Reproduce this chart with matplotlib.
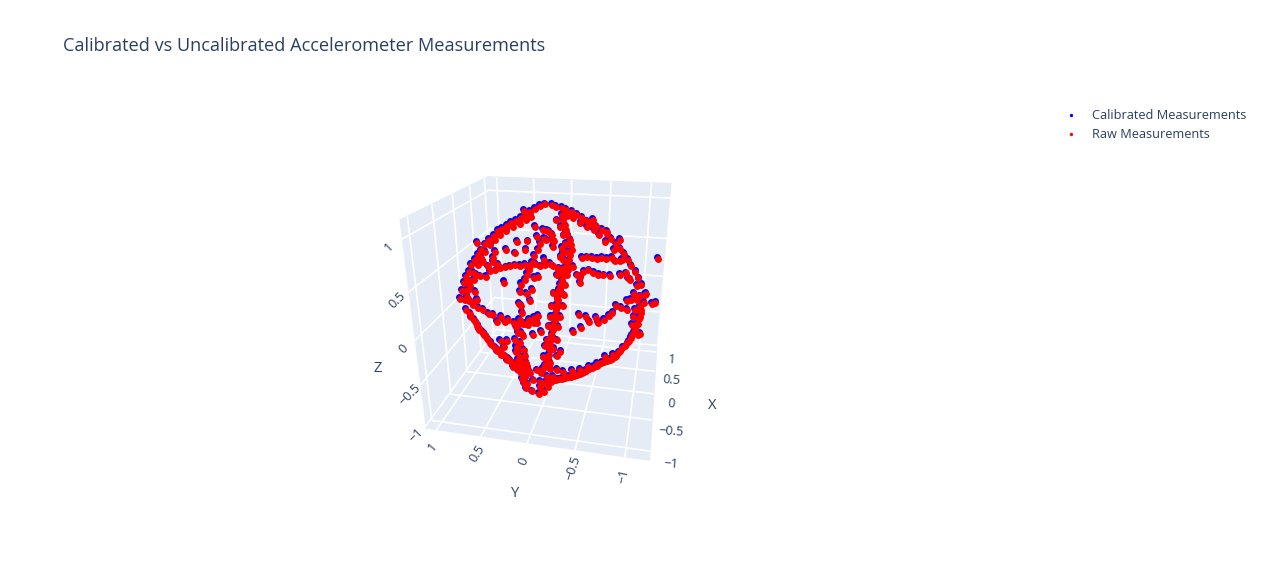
import matplotlib
matplotlib.use('Agg')
import matplotlib.pyplot as plt
import numpy as np
from matplotlib.lines import Line2D

# accelerometer readings in g, stored as hundredths
raw_x = [21,20,18,16,14,12,10,8,6,3,1,-2,-5,-8,-11,-14,-17,-20,-24,-27,-30,-34,-38,16,14,11,8,5,
1,-2,-5,-9,-13,-17,-21,-26,-31,-36,-34,-33,-28,-24,-20,-19,-27,-34,-29,-40,-39,-40,-41,-42,-42,-43,-44,-44,
-45,-45,-46,-47,-48,-42,-42,-45,-45,-46,-48,-48,-52,-55,-58,-58,-58,-55,-50,-46,-43,-41,-39,-38,-36,-34,-32,-29,
-28,-25,-24,-22,-21,-18,-15,-12,-9,-6,-3,0,3,6,9,-46,-42,-39,-37,-36,-36,-34,-32,-29,-26,-21,-20,-50,
-49,-43,-42,-52,-48,9,13,16,18,20,22,24,25,26,27,28,28,28,28,28,28,27,27,26,25,24,23,13,
11,8,5,4,1,-3,-3,16,18,22,25,27,27,28,28,27,27,26,9,44,60,70,77,83,88,91,94,97,
98,99,100,100,99,98,97,94,92,89,87,83,79,75,70,65,59,53,47,40,33,24,9,60,73,83,90,95,
98,99,99,98,94,95,87,90,80,83,72,74,58,61,50,50,48,36,40,29,98,99,100,100,99,99,100,99,
99,98,42,50,56,63,68,73,78,82,86,89,92,94,96,97,96,94,91,88,84,80,74,71,63,98,96,94,
91,88,82,69,54,18,4,4,27,29,28,63,73,77,76,88,41,41,57,63,74,69,78,-12,25,38,44,53,
14,-62,-72,-78,-83,-87,-90,-92,-93,-95,-95,-97,-98,-98,-98,-96,-95,-84,-81,-80,-75,-75,-70,-65,-61,-54,-50,-42,
-39,-29,-38,-47,-53,-59,-65,-71,-75,-78,-81,-84,-87,-92,-93,-88,-86,-91,-80,-79,-67,-48,-47,-41,-54,-53,-57,-95,
-97,-98,-99,-99,-100,-99,-100,-99,-99,-97,-98,-95,-95,-91,-85,-99,-98,-97,-97,-97,-80,-67,-99,-98,-95,-97,-96,-90,
-85,-9,-9,
-40,-40,-41,-42,-43,-43,-44,-45,-45,-46,-47,-47,-50,-44,-42,-40,-38,-37,-35,-33,-30,-28,-27,-25,-23,-21,-19,-16,-13,-10,-7,-4,-1,2,
96,92,88,81,73,62,50,37,-100,-98,-97,-95,-92,-88,-96,-94,-98]
raw_y = [12,18,23,28,33,38,43,48,53,57,62,66,70,74,78,81,84,87,89,92,93,94,96,27,32,39,46,53,
59,65,69,74,78,81,85,88,89,91,93,89,87,84,82,78,82,86,80,89,85,80,76,71,66,61,56,50,
44,38,32,27,22,74,68,53,48,41,34,28,21,19,16,10,2,-3,-7,-10,-15,-21,-26,-31,-37,-42,-47,-53,
-58,-63,-69,-74,-79,-83,-88,-91,-94,-97,-99,-101,-102,-104,-105,15,8,1,-6,-14,-21,-31,-40,-49,-58,-66,-75,10,
3,-4,-11,2,-3,-106,-100,-96,-92,-87,-83,-78,-73,-68,-62,-57,-51,-45,-40,-34,-28,-23,-17,-11,-6,0,5,-95,
-92,-96,-100,-95,-94,-100,-93,-87,-82,-76,-66,-56,-48,-42,-34,-27,-19,-12,-99,-2,0,0,0,-1,-3,-4,-5,-2,
0,3,6,7,9,12,11,13,13,14,14,15,14,16,15,16,15,15,14,14,15,15,16,8,6,4,3,2,
7,14,16,5,20,6,21,6,21,8,22,9,21,8,21,10,0,20,3,10,21,14,7,1,-6,12,3,-11,
-16,-16,89,85,81,76,72,66,61,55,50,44,38,31,25,11,-18,-25,-32,-39,-45,-52,-59,-64,-71,-20,-27,-34,
-41,-48,-57,-71,-82,-116,-113,-117,-72,-41,-57,36,28,22,37,18,81,84,72,60,49,65,53,82,91,90,85,82,
35,75,66,58,51,44,38,34,29,24,21,15,10,5,0,-5,-9,-46,-53,-56,-62,-64,-69,-73,-76,-79,-83,-89,
-88,-92,-4,-3,-1,0,2,3,5,6,7,10,11,11,8,4,-1,0,-1,-5,-8,-6,-11,-10,-14,-23,-25,7,
9,12,10,14,8,11,5,9,4,8,3,7,2,7,7,7,3,0,-5,-8,29,52,-5,-12,30,23,26,-42,
-49,-103,-101,
83,78,74,69,64,59,53,47,41,35,30,25,20,-13,-18,-24,-29,-34,-40,-45,-50,-55,-61,-66,-72,-77,-81,-85,-90,-93,-96,-98,-100,-102,
13,14,13,14,16,14,15,14,12,13,12,11,11,11,3,4,6]
raw_z = [106,104,101,98,95,92,89,87,84,81,79,74,70,66,60,56,51,46,39,34,28,21,13,93,90,86,83,79,
75,70,65,58,52,45,37,29,21,11,20,14,24,30,35,33,18,9,9,1,-4,-10,-16,-22,-28,-34,-39,-43,
-48,-53,-57,-61,-65,-20,-26,-43,-47,-52,-58,-62,-69,-73,-77,-80,-82,-81,-77,-73,-72,-71,-69,-69,-67,-65,-63,-60,
-58,-55,-53,-50,-47,-42,-37,-32,-26,-20,-14,-7,0,7,15,-65,-63,-62,-62,-63,-65,-64,-62,-59,-56,-49,-46,-71,
-73,-69,-69,-77,-74,17,25,31,38,43,49,55,60,65,70,75,79,83,86,88,92,95,98,100,102,103,105,23,
15,9,3,-1,-8,-14,-16,29,35,49,59,67,74,79,82,86,91,93,13,90,80,71,63,55,48,40,33,26,
18,11,4,-3,-10,-17,-24,-30,-36,-42,-48,-54,-59,-65,-70,-74,-79,-83,-87,-90,-93,-96,-98,79,68,55,42,30,
18,3,-4,-17,-28,-30,-44,-44,-56,-56,-66,-66,-79,-79,-84,-86,-88,-91,-91,-95,8,6,6,4,9,-1,-3,-2,
-4,-12,16,15,16,15,15,15,13,13,10,13,9,11,12,22,23,25,26,26,29,29,33,30,33,4,7,5,
4,5,7,14,16,54,8,9,70,90,78,69,63,60,53,45,42,34,40,49,47,32,35,68,34,24,28,21,
99,22,23,23,24,22,23,17,23,19,22,20,19,21,20,27,29,28,25,20,22,17,19,21,23,27,24,19,
27,24,93,88,85,80,76,71,66,62,58,54,48,38,36,47,50,41,60,61,74,87,87,91,83,82,78,30,
24,17,11,3,1,-7,-6,-14,-13,-22,-21,-31,-30,-41,-53,11,21,25,22,22,53,52,11,14,-2,0,-7,13,
16,-23,-25,
-7,-13,-19,-25,-31,-37,-41,-46,-51,-55,-59,-63,-67,-72,-71,-70,-69,-68,-66,-64,-61,-59,-56,-54,-51,-48,-44,-39,-34,-29,-23,-17,-10,-3,
-23,-33,-45,-57,-68,-77,-85,-92,-3,-10,-19,-27,-37,-46,-25,-35,8]
cal_x = [21,20,18,16,14,12,10,8,6,3,1,-2,-5,-8,-11,-14,-17,-20,-24,-27,-30,-34,-38,16,14,11,8,5,
1,-2,-5,-9,-13,-17,-21,-26,-31,-36,-34,-33,-28,-24,-20,-19,-27,-34,-29,-40,-39,-40,-41,-42,-42,-43,-44,-44,
-45,-45,-46,-47,-48,-42,-42,-45,-45,-46,-48,-48,-52,-55,-58,-58,-58,-55,-50,-46,-43,-41,-39,-38,-36,-34,-32,-29,
-28,-25,-24,-22,-21,-18,-15,-12,-9,-6,-3,0,3,6,9,-46,-42,-39,-37,-36,-36,-34,-32,-29,-26,-21,-20,-50,
-49,-43,-42,-52,-48,9,13,16,18,20,22,24,25,26,27,28,28,28,28,28,28,27,27,26,25,24,23,13,
11,8,5,4,1,-3,-3,16,18,22,25,27,27,28,28,27,27,26,9,44,60,70,77,83,88,91,94,97,
98,99,100,100,99,98,97,94,92,89,87,83,79,75,70,65,59,53,47,40,33,24,9,60,73,83,90,95,
98,99,99,98,94,95,87,90,80,83,72,74,58,61,50,50,48,36,40,29,98,99,100,100,99,99,100,99,
99,98,42,50,56,63,68,73,78,82,86,89,92,94,96,97,96,94,91,88,84,80,74,71,63,98,96,94,
91,88,82,69,54,18,4,4,27,29,28,63,73,77,76,88,41,41,57,63,74,69,78,-12,25,38,44,53,
14,-62,-72,-78,-83,-87,-90,-92,-93,-95,-95,-97,-98,-98,-98,-96,-95,-84,-81,-80,-75,-75,-70,-65,-61,-54,-50,-42,
-39,-29,-38,-47,-53,-59,-65,-71,-75,-78,-81,-84,-87,-92,-93,-88,-86,-91,-80,-79,-67,-48,-47,-41,-54,-53,-57,-95,
-97,-98,-99,-99,-100,-99,-100,-99,-99,-97,-98,-95,-95,-91,-85,-99,-98,-97,-97,-97,-80,-67,-99,-98,-95,-97,-96,-90,
-85,-9,-9,
-40,-40,-41,-42,-43,-43,-44,-45,-45,-46,-47,-47,-50,-44,-42,-40,-38,-37,-35,-33,-30,-28,-27,-25,-23,-21,-19,-16,-13,-10,-7,-4,-1,2,
96,92,88,81,73,62,50,37,-100,-98,-97,-95,-92,-88,-96,-94,-98]
cal_y = [13,19,24,29,34,39,44,49,54,58,63,67,71,75,79,82,85,88,90,93,94,95,97,28,33,40,47,54,
60,66,70,75,79,82,86,89,90,92,94,90,88,85,83,79,83,87,81,90,86,81,77,72,67,62,57,51,
45,39,33,28,23,75,69,54,49,42,35,29,22,20,17,11,3,-2,-6,-9,-14,-20,-25,-30,-36,-41,-46,-52,
-57,-62,-68,-73,-78,-82,-87,-90,-93,-96,-98,-100,-101,-103,-104,16,9,2,-5,-13,-20,-30,-39,-48,-57,-65,-74,11,
4,-3,-10,3,-2,-105,-99,-95,-91,-86,-82,-77,-72,-67,-61,-56,-50,-44,-39,-33,-27,-22,-16,-10,-5,1,6,-94,
-91,-95,-99,-94,-93,-99,-92,-86,-81,-75,-65,-55,-47,-41,-33,-26,-18,-11,-98,-1,1,1,1,0,-2,-3,-4,-1,
1,4,7,8,10,13,12,14,14,15,15,16,15,17,16,17,16,16,15,15,16,16,17,9,7,5,4,3,
8,15,17,6,21,7,22,7,22,9,23,10,22,9,22,11,1,21,4,11,22,15,8,2,-5,13,4,-10,
-15,-15,90,86,82,77,73,67,62,56,51,45,39,32,26,12,-17,-24,-31,-38,-44,-51,-58,-63,-70,-19,-26,-33,
-40,-47,-56,-70,-81,-115,-112,-116,-71,-40,-56,37,29,23,38,19,82,85,73,61,50,66,54,83,92,91,86,83,
36,76,67,59,52,45,39,35,30,25,22,16,11,6,1,-4,-8,-45,-52,-55,-61,-63,-68,-72,-75,-78,-82,-88,
-87,-91,-3,-2,0,1,3,4,6,7,8,11,12,12,9,5,0,1,0,-4,-7,-5,-10,-9,-13,-22,-24,8,
10,13,11,15,9,12,6,10,5,9,4,8,3,8,8,8,4,1,-4,-7,30,53,-4,-11,31,24,27,-41,
-48,-102,-100,
84,79,75,70,65,60,54,48,42,36,31,26,21,-12,-17,-23,-28,-33,-39,-44,-49,-54,-60,-65,-71,-76,-80,-84,-89,-92,-95,-97,-99,-101,
14,15,14,15,17,15,16,15,13,14,13,12,12,12,4,5,7]
cal_z = [108,106,103,100,97,94,91,89,86,83,81,76,72,68,62,58,53,48,41,36,30,23,15,95,92,88,85,81,
77,72,67,60,54,47,39,31,23,13,22,16,26,32,37,35,20,11,11,3,-2,-8,-14,-20,-26,-32,-37,-41,
-46,-51,-55,-59,-63,-18,-24,-41,-45,-50,-56,-60,-67,-71,-75,-78,-80,-79,-75,-71,-70,-69,-67,-67,-65,-63,-61,-58,
-56,-53,-51,-48,-45,-40,-35,-30,-24,-18,-12,-5,2,9,17,-63,-61,-60,-60,-61,-63,-62,-60,-57,-54,-47,-44,-69,
-71,-67,-67,-75,-72,19,27,33,40,45,51,57,62,67,72,77,81,85,88,90,94,97,100,102,104,105,107,25,
17,11,5,1,-6,-12,-14,31,37,51,61,69,76,81,84,88,93,95,15,92,82,73,65,57,50,42,35,28,
20,13,6,-1,-8,-15,-22,-28,-34,-40,-46,-52,-57,-63,-68,-72,-77,-81,-85,-88,-91,-94,-96,81,70,57,44,32,
20,5,-2,-15,-26,-28,-42,-42,-54,-54,-64,-64,-77,-77,-82,-84,-86,-89,-89,-93,10,8,8,6,11,1,-1,0,
-2,-10,18,17,18,17,17,17,15,15,12,15,11,13,14,24,25,27,28,28,31,31,35,32,35,6,9,7,
6,7,9,16,18,56,10,11,72,92,80,71,65,62,55,47,44,36,42,51,49,34,37,70,36,26,30,23,
101,24,25,25,26,24,25,19,25,21,24,22,21,23,22,29,31,30,27,22,24,19,21,23,25,29,26,21,
29,26,95,90,87,82,78,73,68,64,60,56,50,40,38,49,52,43,62,63,76,89,89,93,85,84,80,32,
26,19,13,5,3,-5,-4,-12,-11,-20,-19,-29,-28,-39,-51,13,23,27,24,24,55,54,13,16,0,2,-5,15,
18,-21,-23,
-5,-11,-17,-23,-29,-35,-39,-44,-49,-53,-57,-61,-65,-70,-69,-68,-67,-66,-64,-62,-59,-57,-54,-52,-49,-46,-42,-37,-32,-27,-21,-15,-8,-1,
-21,-31,-43,-55,-66,-75,-83,-90,-1,-8,-17,-25,-35,-44,-23,-33,10]
tick_vals = [-1, -0.5, 0, 0.5, 1]
tick_text = ['\u22121', '\u22120.5', '0', '0.5', '1']

font = 'Open Sans'
ink = '#2a3f5f'
plt.rcParams['font.family'] = font
plt.rcParams['grid.color'] = 'white'
plt.rcParams['grid.linewidth'] = 1.2

fig = plt.figure(figsize=(12.64, 5.79), dpi=100)
ax = fig.add_axes([320.7 / 1264, 44.9 / 579, 459.8 / 1264, 459.8 / 579], projection='3d', computed_zorder=False)
ax.patch.set_visible(False)
ax.set_proj_type('persp', focal_length=0.2)
ax.view_init(elev=23.13, azim=192.19)
ax.set_xlim(-1.14, 1.13)
ax.set_ylim(-1.24, 1.12)
ax.set_zlim(-1.03, 1.17)
ax.set_box_aspect((1, 1.006, 0.969), zoom=0.7422)

for axis in (ax.xaxis, ax.yaxis, ax.zaxis):
    axis.set_pane_color('#E5ECF6')
    axis.pane.set_edgecolor('#E5ECF6')
    axis.line.set_color((1, 1, 1, 0))
    axis.set_ticks(tick_vals)
    axis.label.set_visible(False)
    axis.offsetText.set_visible(False)
ax.xaxis.set_ticklabels(tick_text, fontsize=9.2, color=ink, rotation=-4, ha='center', va='bottom')
ax.yaxis.set_ticklabels(tick_text, fontsize=9.2, color=ink, ha='center', va='center')
ax.zaxis.set_ticklabels(tick_text, fontsize=9.2, color=ink, rotation=45, ha='center', va='top', rotation_mode='anchor')
for lab, rot in zip(ax.yaxis.get_ticklabels(), [78, 72, 68, 58, 50]):
    lab.set_rotation(rot)
ax.tick_params(axis='x', color=(1, 1, 1, 0), pad=8)
ax.tick_params(axis='y', color=(1, 1, 1, 0), pad=1.2)
ax.tick_params(axis='z', color=(1, 1, 1, 0), pad=0)

ax.text(-0.1, -1.9, -1.03, 'X', fontsize=10.6, color=ink, ha='center', va='center')
ax.text(-1.8, -0.07, -1.03, 'Y', fontsize=10.6, color=ink, ha='center', va='center')
ax.text(-1.14, 1.58, -0.37, 'Z', fontsize=10.6, color=ink, ha='center', va='center')

ax.scatter(np.array(cal_x) / 100, np.array(cal_y) / 100, np.array(cal_z) / 100, s=25, c='blue',
           linewidths=0, depthshade=False, clip_on=False, zorder=3)
ax.scatter(np.array(raw_x) / 100, np.array(raw_y) / 100, np.array(raw_z) / 100, s=25, c='red',
           linewidths=0, depthshade=False, clip_on=False, zorder=4)

fig.text(63 / 1264, 1 - 46 / 579, 'Calibrated vs Uncalibrated Accelerometer Measurements', fontsize=13.08,
         color=ink, va='center', ha='left')

handles = [Line2D([], [], ls='none', marker='o', ms=2.4, mew=0, color='blue'),
           Line2D([], [], ls='none', marker='o', ms=2.4, mew=0, color='red')]
fig.legend(handles, ['Calibrated Measurements', 'Raw Measurements'], loc='upper left',
           bbox_to_anchor=(1061 / 1264, 1 - 109 / 579), frameon=False, fontsize=9.2, labelcolor=ink,
           labelspacing=0.5, handletextpad=0.8, handlelength=1.6, borderpad=0, borderaxespad=0)

fig.savefig('out.png', dpi=100)
